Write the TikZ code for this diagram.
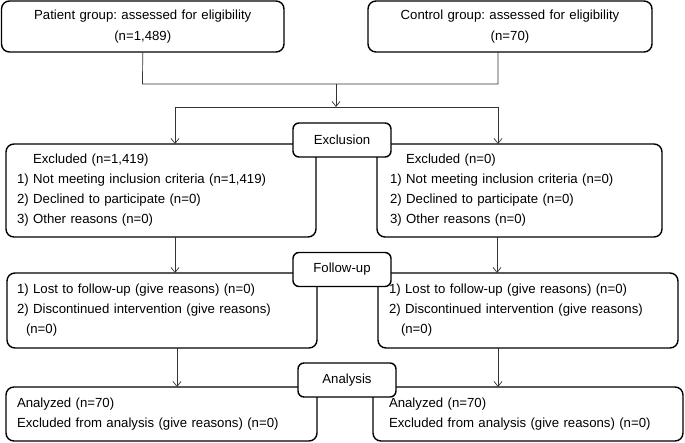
\documentclass[tikz,border=0pt]{standalone}
\usepackage{fontspec}
\setmainfont{Liberation Sans}
\usetikzlibrary{arrows.meta}
\frenchspacing
\begin{document}
\begin{tikzpicture}[x=1pt,y=-1pt,
  bigbox/.style={draw, line width=1.4pt, rounded corners=8pt, anchor=north west,
    outer sep=0pt, inner ysep=0pt, align=left, font=\fontsize{13.2}{20}\selectfont},
  topbox/.style={bigbox, align=center, font=\fontsize{13.2}{21}\selectfont},
  labbox/.style={draw, fill=white, line width=1.4pt, rounded corners=6pt,
    minimum width=98pt, minimum height=34pt, outer sep=0pt, inner sep=0pt,
    font=\fontsize{13.2}{16}\selectfont},
  conn/.style={line width=0.7pt, draw=black!80},
  arr/.style={conn, -{Straight Barb[length=5pt,width=8pt,line width=0.7pt]}}]
\useasboundingbox (0,0) rectangle (685,443);

% top boxes
\node[topbox, minimum width=282.5pt, minimum height=51pt, text width=272pt, inner xsep=5pt]
  (TL) at (1.5,1) {Patient group: assessed for eligibility\\(n=1,489)};
\node[topbox, minimum width=284pt, minimum height=51pt, text width=274pt, inner xsep=5pt]
  (TR) at (368,1) {Control group: assessed for eligibility\\(n=70)};

% exclusion boxes
\node[bigbox, minimum width=310pt, minimum height=93pt, text width=288pt, inner xsep=11pt]
  (EL) at (6,144) {\hspace*{16pt}Excluded (n=1,419)\\1) Not meeting inclusion criteria (n=1,419)\\2) Declined to participate (n=0)\\3) Other reasons (n=0)};
\node[bigbox, minimum width=285pt, minimum height=93pt, text width=259pt, inner xsep=13pt]
  (ER) at (377,144) {\hspace*{16pt}Excluded (n=0)\\1) Not meeting inclusion criteria (n=0)\\2) Declined to participate (n=0)\\3) Other reasons (n=0)};

% follow-up boxes
\node[bigbox, minimum width=310pt, minimum height=75pt, text width=290pt, inner xsep=10pt]
  (FL) at (7,273) {1) Lost to follow-up (give reasons) (n=0)\\2) Discontinued intervention (give reasons)\\\hspace*{9pt}(n=0)};
\node[bigbox, minimum width=300pt, minimum height=75pt, text width=278pt, inner xsep=11pt]
  (FR) at (378,273) {1) Lost to follow-up (give reasons) (n=0)\\2) Discontinued intervention (give reasons)\\\hspace*{12pt}(n=0)};

% analysis boxes
\node[bigbox, minimum width=311pt, minimum height=54pt, text width=289pt, inner xsep=11pt]
  (AL) at (6,387) {Analyzed (n=70)\\Excluded from analysis (give reasons) (n=0)};
\node[bigbox, minimum width=310pt, minimum height=54pt, text width=278pt, inner xsep=16pt]
  (AR) at (373,387) {Analyzed (n=70)\\Excluded from analysis (give reasons) (n=0)};

% stage labels
\node[labbox] (LX) at (342,140) {Exclusion};
\node[labbox] (LF) at (342,269.5) {Follow-up};
\node[labbox] (LA) at (347,380) {Analysis};

% connectors
\coordinate (jL) at (142.5,84);
\coordinate (jR) at (498,84);
\coordinate (jC) at (336,84);
\coordinate (sC) at (336,107);
\coordinate (sL) at (175,107);
\coordinate (sR) at (498,107);
\draw[conn] (TL.south) -- (jL) -- (jR) -- (jR |- TR.south);
\draw[arr] (jC) -- (sC);
\draw[conn] (sL) -- (sR);
\draw[arr] (sL) -- (sL |- EL.north);
\draw[arr] (sR) -- (sR |- ER.north);

\coordinate (e1) at (175,237);
\coordinate (e2) at (497,237);
\draw[arr] (e1) -- (e1 |- FL.north);
\draw[arr] (e2) -- (e2 |- FR.north);

\coordinate (f1) at (177,348);
\coordinate (f2) at (498,348);
\draw[arr] (f1) -- (f1 |- AL.north);
\draw[arr] (f2) -- (f2 |- AR.north);
\end{tikzpicture}
\end{document}
